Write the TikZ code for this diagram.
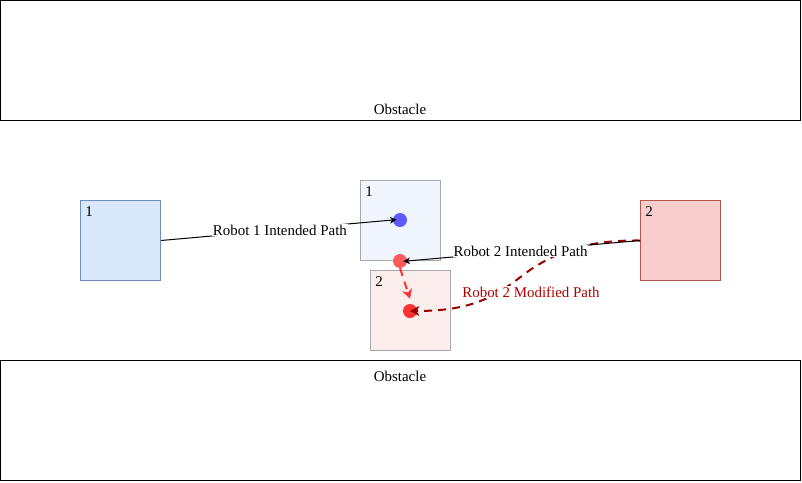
\documentclass[tikz,border=0pt]{standalone}
\usepackage{fontspec}
\setmainfont{Liberation Serif}
\usetikzlibrary{arrows.meta}
\definecolor{r1fill}{HTML}{DAE8FC}
\definecolor{r1draw}{HTML}{6C8EBF}
\definecolor{r2fill}{HTML}{F8CECC}
\definecolor{r2draw}{HTML}{B85450}
\definecolor{g1fill}{HTML}{F0F5FE}
\definecolor{g2fill}{HTML}{FBEEED}
\definecolor{gdraw}{HTML}{A8A8A8}
\definecolor{bluedot}{HTML}{5C5CFF}
\definecolor{reddotA}{HTML}{FF5A5A}
\definecolor{reddotB}{HTML}{FF3333}
\definecolor{darkred}{HTML}{990000}
\definecolor{labred}{HTML}{B20000}
\tikzset{
  every node/.style={font=\fontsize{11.2pt}{13pt}\selectfont, inner sep=0pt},
  obstacle/.style={draw=black, line width=0.75pt},
  robotbox/.style={minimum width=60pt, minimum height=60pt, line width=0.75pt, anchor=north west},
  boxnum/.style={anchor=north west, inner sep=0pt},
  dot/.style={circle, minimum size=10.5pt},
  pathlabel/.style={fill=white, inner sep=0.5pt},
  blackarrow/.style={line width=0.75pt, shorten >=-3pt, -{Stealth[length=5pt,width=5pt,inset=1.5pt]}},
  bigtip/.style={-{Stealth[length=7pt,width=7.5pt,inset=2pt]}},
}
\begin{document}
\begin{tikzpicture}[x=0.75pt,y=-0.75pt]
\useasboundingbox (0,0) rectangle (802,482);
% obstacles
\draw[obstacle] (0.5,0.5) rectangle (800.5,120.5);
\node[anchor=base] (obs1) at (400,114) {Obstacle};
\draw[obstacle] (0.5,360.5) rectangle (800.5,480.5);
\node[anchor=base] (obs2) at (400,381) {Obstacle};
% boxes
\node[robotbox, fill=r1fill, draw=r1draw] (r1) at (80,200) {};
\node[boxnum] (r1n) at (85,206) {1};
\node[robotbox, fill=r2fill, draw=r2draw] (r2) at (640,200) {};
\node[boxnum] (r2n) at (645,206) {2};
\node[robotbox, fill=g1fill, draw=gdraw] (g1) at (360,180) {};
\node[boxnum] (g1n) at (365,186) {1};
\node[robotbox, fill=g2fill, draw=gdraw] (g2) at (370,270) {};
\node[boxnum] (g2n) at (375,276) {2};
% dots
\node[dot, fill=bluedot] (bd) at (400,220) {};
\node[dot, fill=reddotA] (rdA) at (400,261) {};
\node[dot, fill=reddotB] (rdB) at (410,311) {};
% modified path
\coordinate (m1) at (530,270);
\draw[darkred, line width=1.5pt, dash pattern=on 6pt off 4.5pt, bigtip]
  (r2.west) .. controls (590,240) and (560,250) .. (m1)
  .. controls (500,292) and (480,311) .. (rdB.center);
\node[pathlabel, text=labred] (mlab) at (531,292) {Robot 2 Modified Path};
% red dashed arrow
\draw[reddotB, line width=1.5pt, dash pattern=on 6pt off 4.5pt, bigtip]
  (rdA.south) -- ([shift={(0,-5)}]rdB.north);
% intended paths
\draw[blackarrow] (r1.east) -- node[pathlabel, pos=0.513] (l1) {Robot 1 Intended Path} (bd.west);
\draw[blackarrow] (r2.west) -- node[pathlabel, pos=0.513] (l2) {Robot 2 Intended Path} (rdA.east);
\end{tikzpicture}
\end{document}
